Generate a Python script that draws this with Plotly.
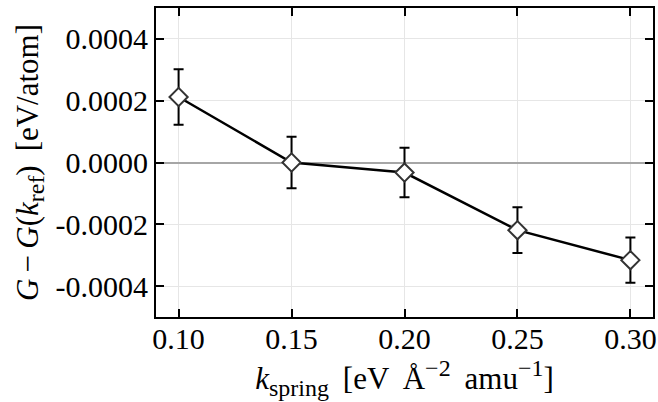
import plotly.graph_objects as go

k_spring = [0.10, 0.15, 0.20, 0.25, 0.30]
delta_G = [0.000212, 0.0, -0.0000325, -0.000219, -0.000316]
delta_G_err = [0.00009, 0.000083, 0.00008, 0.000074, 0.000073]

x_tickvals = [0.10, 0.15, 0.20, 0.25, 0.30]
x_ticktext = ["0.10", "0.15", "0.20", "0.25", "0.30"]
y_tickvals = [-0.0004, -0.0002, 0.0, 0.0002, 0.0004]
y_ticktext = ["-0.0004", "-0.0002", "0.0000", "0.0002", "0.0004"]

FONT = "Liberation Serif"
S = '<span style="font-size:24px">'

fig = go.Figure()
fig.add_trace(go.Scatter(
    x=k_spring, y=delta_G,
    mode="lines+markers",
    line=dict(color="black", width=2.5),
    marker=dict(symbol="diamond", size=14, color="white",
                line=dict(color="#333333", width=2)),
    error_y=dict(type="data", array=delta_G_err, visible=True,
                 color="black", thickness=2, width=5),
    showlegend=False,
))

axis_common = dict(
    showline=True, linecolor="black", linewidth=2, mirror="ticks",
    ticks="inside", ticklen=8, tickwidth=2, tickcolor="black",
    showgrid=True, gridcolor="#e6e6e6", gridwidth=1,
    tickfont=dict(family=FONT, size=30, color="black"),
    automargin=False,
)

fig.update_xaxes(
    range=[0.09, 0.31], tickvals=x_tickvals, ticktext=x_ticktext,
    zeroline=False, ticklabelstandoff=-6,
    title=dict(text=f"<i>k</i><sub>{S}spring</span></sub> \u2009[eV \u2009Å<sup>{S}−2</span></sup> \u2009amu<sup>{S}−1</span></sup>]",
               font=dict(family=FONT, size=31, color="black"), standoff=10),
    **axis_common,
)
fig.update_yaxes(
    range=[-0.0005, 0.0005], tickvals=y_tickvals, ticktext=y_ticktext,
    zeroline=True, zerolinecolor="#a6a6a6", zerolinewidth=2,
    title=dict(text=f"<i>G</i>\u2009−\u2009<i>G</i>(<i>k</i><sub>{S}ref</span></sub>) \u2009[eV/atom]",
               font=dict(family=FONT, size=31, color="black"), standoff=8),
    **axis_common,
)

fig.update_layout(
    width=658, height=402,
    margin=dict(l=156, r=5, t=8, b=85),
    plot_bgcolor="white", paper_bgcolor="white",
    font=dict(family=FONT, color="black"),
)

fig.write_html("out.html", config={"displayModeBar": False},
               post_script="document.body.style.margin='0';document.body.style.overflow='hidden';")
